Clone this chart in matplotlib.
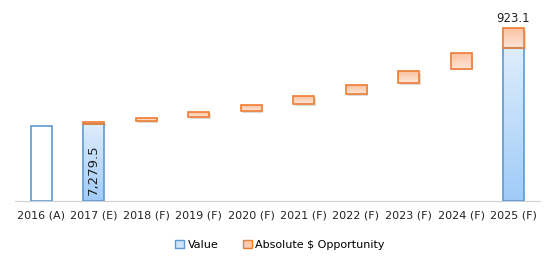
import numpy as np
import matplotlib
matplotlib.use("Agg")
import matplotlib.pyplot as plt
from matplotlib.patches import Rectangle

# data
years = ["2016 (A)", "2017 (E)", "2018 (F)", "2019 (F)", "2020 (F)",
         "2021 (F)", "2022 (F)", "2023 (F)", "2024 (F)", "2025 (F)"]
value = [7100, 7279.5, np.nan, np.nan, np.nan, np.nan, np.nan, np.nan, np.nan, 14490]
opp_low = [np.nan, 7279.5, 7570, 7950, 8520, 9185, 10135, 11180, 12570, 14490]
opp_high = [np.nan, 7470, 7885, 8425, 9090, 9945, 10990, 12320, 14030, 16390]
value_label = "7,279.5"
opp_label = "923.1"

BLUE = "#5B9BD5"
ORANGE = "#ED7D31"

fig = plt.figure(figsize=(5.55, 2.65), dpi=100)
ax = fig.add_axes([14.75 / 555, 64 / 265, 525 / 555, 190 / 265])
ax.set_xlim(-0.5, 9.5)
ax.set_ylim(0, 18050)

w = 0.4


def grad_bar(x, y0, y1, top_col, bot_col, edge, shadow=False):
    if shadow:
        sh = Rectangle((x - w / 2 + 0.03, y0 - 120), w, y1 - y0, facecolor="#999999",
                       edgecolor="none", alpha=0.35, zorder=2)
        ax.add_patch(sh)
    rect = Rectangle((x - w / 2, y0), w, y1 - y0, facecolor="none",
                     edgecolor=edge, linewidth=1.2, zorder=4)
    ax.add_patch(rect)
    if top_col is None:
        back = Rectangle((x - w / 2, y0), w, y1 - y0, facecolor="white",
                         edgecolor="none", zorder=3)
        ax.add_patch(back)
        return
    c1 = np.array(matplotlib.colors.to_rgb(top_col))
    c2 = np.array(matplotlib.colors.to_rgb(bot_col))
    t = np.linspace(0, 1, 64)[:, None]
    img = (c1 * (1 - t) + c2 * t)[:, None, :]
    im = ax.imshow(img, extent=(x - w / 2, x + w / 2, y0, y1), origin="upper",
                   aspect="auto", zorder=3, interpolation="bilinear")
    im.set_clip_path(Rectangle((x - w / 2, y0), w, y1 - y0, transform=ax.transData))


for i in range(len(years)):
    v = value[i]
    if not np.isnan(v):
        if i == 0:
            grad_bar(i, 0, v, None, None, BLUE)
        else:
            grad_bar(i, 0, v, "#DEEDFC", "#A0CBF8", BLUE)
    if not np.isnan(opp_low[i]):
        grad_bar(i, opp_low[i], opp_high[i], "#FBC3A2", "#FDE5D8", ORANGE, shadow=True)

ax.set_aspect("auto")

# labels
ax.annotate(value_label, (1, 0), xytext=(0, 4.5), textcoords="offset points",
            rotation=90, ha="center", va="bottom", fontsize=9.5, color="#222222", zorder=6)
ax.annotate(opp_label, (9, opp_high[9]), xytext=(0, 2.5), textcoords="offset points",
            ha="center", va="bottom", fontsize=8.5, color="#222222", zorder=6)

ax.set_xticks(range(len(years)))
ax.set_xticklabels(years, fontsize=8, color="#222222")
ax.tick_params(axis="x", length=0, pad=7)
ax.set_yticks([])
for s in ["top", "right", "left"]:
    ax.spines[s].set_visible(False)
ax.spines["bottom"].set_color("#D0D0D0")

# legend
h1 = Rectangle((0, 0), 1, 1, facecolor="#CFE3F8", edgecolor=BLUE, linewidth=1)
h2 = Rectangle((0, 0), 1, 1, facecolor="#FCCBB0", edgecolor=ORANGE, linewidth=1)
fig.legend([h1, h2], ["Value", "Absolute $ Opportunity"], loc="center",
           bbox_to_anchor=(280 / 555, 1 - 245 / 265), ncol=2, frameon=False,
           fontsize=8, handlelength=0.8, handleheight=0.8, handletextpad=0.3,
           columnspacing=2.2)

fig.savefig("out.png", dpi=100)
